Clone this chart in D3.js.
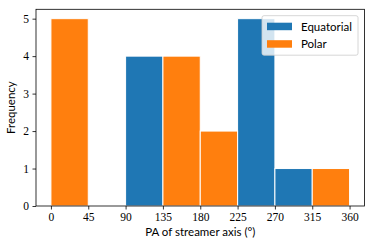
<!DOCTYPE html>
<html>
<head>
<meta charset="utf-8">
<script src="https://cdn.jsdelivr.net/npm/d3@7"></script>
<style>
body { margin: 0; background: white; }
svg { display: block; }
</style>
</head>
<body>
<div id="container"></div>
<script>
// histogram of streamer PA, equatorial vs polar
const binEdges = [0, 45, 90, 135, 180, 225, 270, 315, 360]
const equatorialCounts = [0, 0, 4, 0, 0, 5, 1, 0]
const polarCounts = [5, 0, 0, 4, 2, 0, 0, 1]
const xTicks = [0, 45, 90, 135, 180, 225, 270, 315, 360]
const yTicks = [0, 1, 2, 3, 4, 5]
const seriesNames = ["Equatorial", "Polar"]
const colors = ["#1f77b4", "#ff7f0e"]

const w = 374, h = 249
const m = { left: 36, right: 9.5, top: 9.3, bottom: 43 }
const svg = d3.select("#container").append("svg").attr("width", w).attr("height", h)

const x = d3.scaleLinear().domain([-18, 378]).range([m.left, w - m.right])
const y = d3.scaleLinear().domain([0, 5.25]).range([h - m.bottom, m.top])

const bins = binEdges.slice(0, -1).map((e, i) => ({ x0: e, x1: binEdges[i + 1], eq: equatorialCounts[i], po: polarCounts[i] }))

const series = [
    { name: seriesNames[0], color: colors[0], key: "eq" },
    { name: seriesNames[1], color: colors[1], key: "po" }
]

series.forEach(s => {
    svg.append("g").selectAll("rect")
        .data(bins.filter(d => d[s.key] > 0))
        .enter()
        .append("rect")
        .attr("x", d => x(d.x0))
        .attr("width", d => x(d.x1) - x(d.x0))
        .attr("y", d => y(d[s.key]))
        .attr("height", d => y(0) - y(d[s.key]))
        .attr("fill", s.color)
        .attr("stroke", "white")
        .attr("stroke-width", 1)
})

const xAxis = svg.append("g").attr("transform", `translate(0, ${h - m.bottom})`)
    .call(d3.axisBottom(x).tickValues(xTicks).tickFormat(d3.format("d")).tickSize(3.5).tickPadding(3.5))
const yAxis = svg.append("g").attr("transform", `translate(${m.left}, 0)`)
    .call(d3.axisLeft(y).tickValues(yTicks).tickFormat(d3.format("d")).tickSize(3.5).tickPadding(3.5))
;[xAxis, yAxis].forEach(a => {
    a.select(".domain").remove()
    a.selectAll("line").attr("stroke", "#000").attr("stroke-width", 0.8)
    a.attr("font-family", null).attr("font-size", null)
    a.selectAll("text").attr("font-family", "'Liberation Serif', serif").attr("font-size", 11.5).attr("fill", "#000")
})

// spines
svg.append("rect").attr("x", m.left).attr("y", m.top)
    .attr("width", w - m.right - m.left).attr("height", h - m.bottom - m.top)
    .attr("fill", "none").attr("stroke", "#000").attr("stroke-width", 0.8)

svg.append("text").attr("x", (m.left + w - m.right) / 2).attr("y", 236)
    .attr("text-anchor", "middle").attr("font-family", "Lato, sans-serif").attr("font-size", 11.5)
    .text("PA of streamer axis (°)")
svg.append("text").attr("transform", `translate(15, ${(m.top + h - m.bottom) / 2}) rotate(-90)`)
    .attr("text-anchor", "middle").attr("font-family", "Lato, sans-serif").attr("font-size", 11.5)
    .text("Frequency")

// legend
const lg = svg.append("g").attr("transform", "translate(262, 15.7)")
lg.append("rect").attr("width", 96).attr("height", 39.5).attr("rx", 2)
    .attr("fill", "white").attr("fill-opacity", 0.8).attr("stroke", "#ccc").attr("stroke-width", 0.8)
series.forEach((s, i) => {
    lg.append("rect").attr("x", 5).attr("y", 7 + i * 17.5).attr("width", 25).attr("height", 7.5).attr("fill", s.color)
    lg.append("text").attr("x", 39).attr("y", 15 + i * 17.5)
        .attr("font-family", "Lato, sans-serif").attr("font-size", 11.5).text(s.name)
})
</script>
</body>
</html>
